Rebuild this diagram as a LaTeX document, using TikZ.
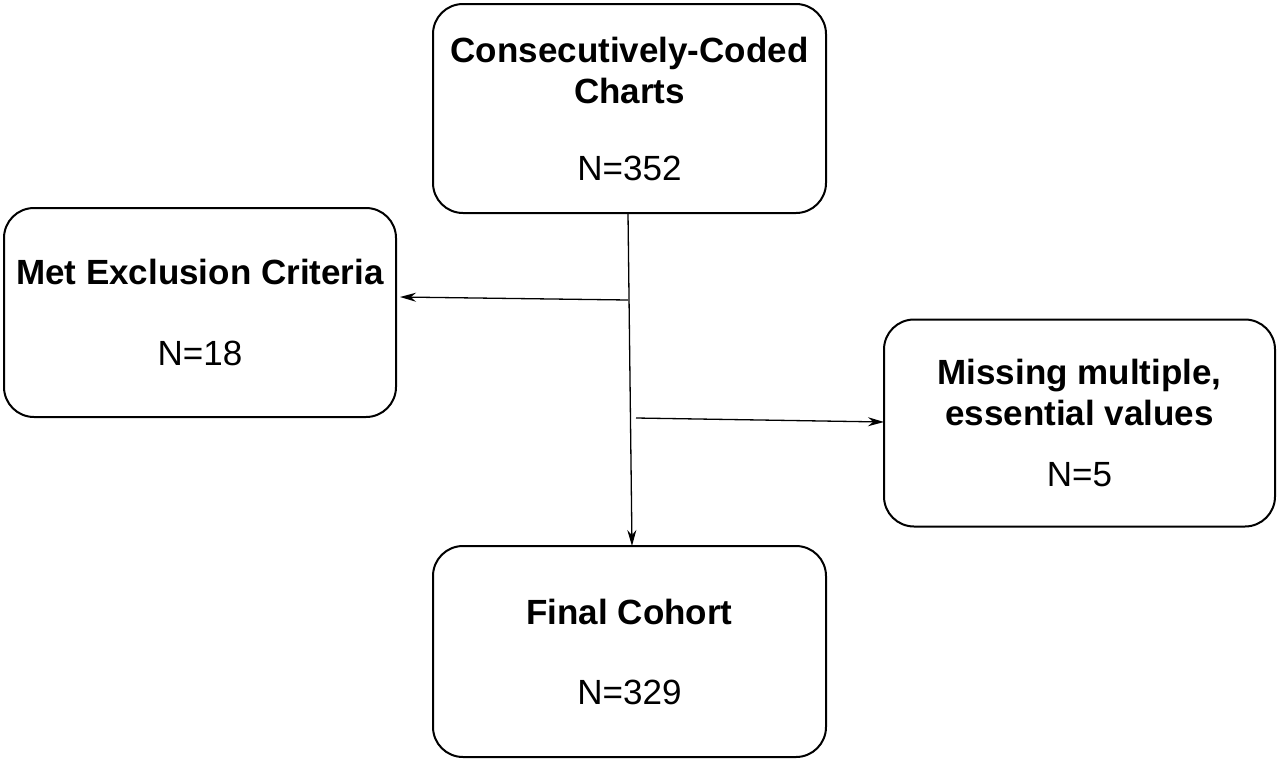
\documentclass[tikz,border=0pt]{standalone}
\usepackage{fontspec}
\setmainfont{Liberation Sans}
\usetikzlibrary{arrows.meta}
\begin{document}
\begin{tikzpicture}[x=1pt,y=-1pt,
  box/.style={draw,line width=2pt,rounded corners=30pt,align=center,inner sep=0pt,font=\fontsize{35}{41}\selectfont},
  arr/.style={line width=1.3pt,-{Stealth[length=16pt,width=9pt]}}]
\useasboundingbox (0,0) rectangle (1280,761);
\node[box,minimum width=393pt,minimum height=209pt] (top) at (629.5,108.5)
  {\textbf{Consecutively-Coded}\\\textbf{Charts}\\[36pt]N=352};
\node[box,minimum width=392pt,minimum height=209pt] (left) at (200,312.5)
  {\textbf{Met Exclusion Criteria}\\[40pt]N=18};
\node[box,minimum width=391pt,minimum height=207pt] (right) at (1079.5,423)
  {\textbf{Missing multiple,}\\\textbf{essential values}\\[20pt]N=5};
\node[box,minimum width=393pt,minimum height=211pt] (bot) at (629.5,651.5)
  {\textbf{Final Cohort}\\[39pt]N=329};
\coordinate (s) at (628,213);
\coordinate (e) at (632,546);
\coordinate (l1) at (628,300);
\coordinate (l2) at (400,297);
\coordinate (r1) at (636,418);
\coordinate (r2) at (884,422);
\draw[arr] (s) -- (e);
\draw[arr] (l1) -- (l2);
\draw[arr] (r1) -- (r2);
\end{tikzpicture}
\end{document}
